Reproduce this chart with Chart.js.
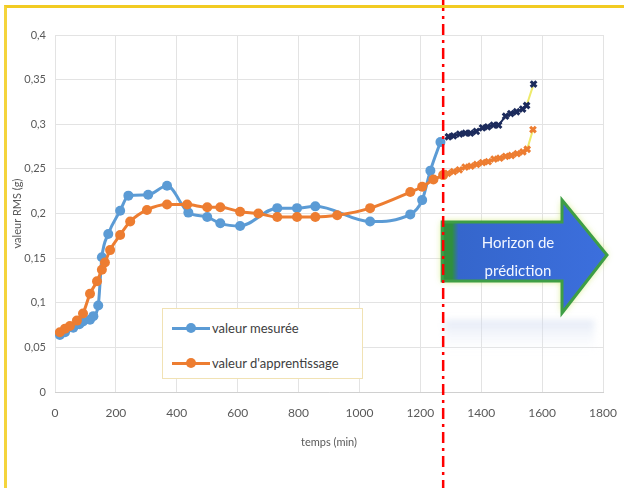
<!DOCTYPE html>
<html>
<head>
<meta charset="utf-8">
<script src="https://cdn.jsdelivr.net/npm/chart.js@4/dist/chart.umd.min.js"></script>
<style>
  html, body { margin: 0; padding: 0; background: #ffffff; overflow: hidden; }
  #wrap { position: relative; width: 624px; height: 488px; overflow: hidden; }
  #c { position: absolute; left: 0; top: 0; }
  #frame { position: absolute; left: 4px; top: 5px; width: 700px; height: 480px;
    border-top: 3px solid #F2CB22; border-left: 3px solid #F4D43C; border-bottom: 1px solid #F8EBB8; pointer-events: none; }
  #legend { position: absolute; left: 162px; top: 308px; width: 199px; height: 69px;
    border: 1px solid #F1E2B4; background: #ffffff; font-family: Lato, "Open Sans", sans-serif;
    font-size: 13px; color: #404040; }
  .item { position: absolute; left: 9px; height: 14px; display: flex; align-items: center; }
  .sym { position: relative; width: 38px; height: 14px; margin-right: 2px; }
  .sym .ln { position: absolute; left: 0; top: 5.5px; width: 38px; height: 3px; }
  .sym .pt { position: absolute; left: 14px; top: 2px; width: 10px; height: 10px; border-radius: 50%; }
  #arrowText { position: absolute; left: 458px; top: 228px; width: 120px; text-align: center;
    font-family: Lato, "Open Sans", sans-serif; font-size: 15px; line-height: 28px; color: #F2F6FF; }
</style>
</head>
<body>
<div id="wrap">
  <canvas id="c" width="624" height="488"></canvas>
  <div id="frame"></div>
  <div id="legend"></div>
  <div id="arrowText">Horizon de<br>prédiction</div>
</div>
<script>
// ---------- DATA ----------
const seriesNames = ["valeur mesurée", "valeur d'apprentissage"];
const xTitle = "temps (min)";
const yTitle = "valeur RMS (g)";

const measuredX = [16, 33, 60, 80, 92, 115, 126, 142, 154, 175, 214, 241, 306, 368, 438, 500, 543, 608, 730, 795, 855, 1035, 1167, 1206, 1233, 1266];
const measuredY = [0.064, 0.067, 0.072, 0.076, 0.079, 0.081, 0.085, 0.097, 0.151, 0.177, 0.203, 0.220, 0.221, 0.231, 0.201, 0.196, 0.189, 0.186, 0.206, 0.206, 0.208, 0.191, 0.199, 0.215, 0.248, 0.280];

const learnedX = [16, 33, 49, 72, 92, 115, 138, 154, 164, 181, 214, 247, 302, 368, 434, 500, 543, 608, 668, 730, 795, 855, 927, 1035, 1167, 1206, 1243, 1275];
const learnedY = [0.067, 0.071, 0.074, 0.080, 0.088, 0.110, 0.124, 0.137, 0.145, 0.159, 0.176, 0.191, 0.204, 0.210, 0.210, 0.207, 0.207, 0.202, 0.200, 0.196, 0.196, 0.196, 0.198, 0.206, 0.224, 0.230, 0.238, 0.243];

const predMeasuredX = [1292, 1309, 1329, 1348, 1365, 1384, 1404, 1421, 1440, 1457, 1480, 1497, 1516, 1536, 1549, 1572];
const predMeasuredY = [0.286, 0.287, 0.289, 0.290, 0.290, 0.292, 0.296, 0.297, 0.299, 0.299, 0.309, 0.312, 0.314, 0.317, 0.321, 0.345];

const predLearnedX = [1290, 1309, 1328, 1347, 1366, 1385, 1404, 1423, 1442, 1461, 1480, 1499, 1518, 1537, 1551, 1570];
const predLearnedY = [0.245, 0.247, 0.249, 0.252, 0.253, 0.255, 0.257, 0.258, 0.261, 0.262, 0.264, 0.265, 0.267, 0.269, 0.272, 0.294];

const horizonX = 1275;
const xTicks = [0, 200, 400, 600, 800, 1000, 1200, 1400, 1600, 1800];
const yTicks = [0, 0.05, 0.1, 0.15, 0.2, 0.25, 0.3, 0.35, 0.4];

// ---------- STYLE ----------
const BLUE = "#5B9BD5", ORANGE = "#ED7D31", NAVY = "#1C2B5C", YELLOW = "#EEEA6A";
const FONT = "Lato, 'Open Sans', sans-serif";
const pts = (xs, ys) => xs.map((x, i) => ({ x: x, y: ys[i] }));

// Legend (HTML)
const legend = document.getElementById('legend');
[[seriesNames[0], BLUE, 12], [seriesNames[1], ORANGE, 47]].forEach(([name, col, top]) => {
  const it = document.createElement('div');
  it.className = 'item';
  it.style.top = top + 'px';
  it.innerHTML = '<div class="sym"><div class="ln" style="background:' + col + '"></div><div class="pt" style="background:' + col + '"></div></div><span>' + name + '</span>';
  legend.appendChild(it);
});

// Arrow + horizon line plugin
const arrowBox = { bodyTop: 222, bodyBottom: 281, headTop: 200, headBottom: 313, headX: 562, tipX: 607, tipY: 255 };
function arrowPath(ctx, left) {
  const a = arrowBox;
  ctx.beginPath();
  ctx.moveTo(left, a.bodyTop);
  ctx.lineTo(a.headX, a.bodyTop);
  ctx.lineTo(a.headX, a.headTop);
  ctx.lineTo(a.tipX, a.tipY);
  ctx.lineTo(a.headX, a.headBottom);
  ctx.lineTo(a.headX, a.bodyBottom);
  ctx.lineTo(left, a.bodyBottom);
  ctx.closePath();
}
const overlayPlugin = {
  id: 'overlay',
  afterDraw(chart) {
    const ctx = chart.ctx;
    const xPix = chart.scales.x.getPixelForValue(horizonX);
    const left = xPix - 1;
    // reflection
    ctx.save();
    const rg = ctx.createLinearGradient(0, 320, 0, 352);
    rg.addColorStop(0, 'rgba(205,216,238,0.55)');
    rg.addColorStop(1, 'rgba(235,240,250,0.0)');
    ctx.fillStyle = rg;
    ctx.filter = 'blur(3px)';
    ctx.fillRect(left + 2, 320, 150, 30);
    ctx.restore();
    // arrow
    ctx.save();
    ctx.shadowColor = 'rgba(200,230,90,0.9)';
    ctx.shadowBlur = 7;
    arrowPath(ctx, left);
    const g = ctx.createLinearGradient(left, 0, arrowBox.tipX, 0);
    g.addColorStop(0, '#2F8F3F');
    g.addColorStop(0.06, '#2F8F3F');
    g.addColorStop(0.1, '#3566CC');
    g.addColorStop(1, '#3C6FDD');
    ctx.fillStyle = g;
    ctx.fill();
    ctx.shadowBlur = 0;
    ctx.lineWidth = 3;
    ctx.strokeStyle = '#3E9E45';
    ctx.lineJoin = 'miter';
    ctx.stroke();
    ctx.restore();
    // horizon dash-dot line
    ctx.save();
    ctx.strokeStyle = '#FF0000';
    ctx.lineWidth = 2.5;
    ctx.setLineDash([11, 5, 3, 5]);
    ctx.beginPath();
    ctx.moveTo(xPix, 0);
    ctx.lineTo(xPix, chart.height);
    ctx.stroke();
    ctx.restore();
  }
};

const fmt = v => v === 0 ? '0' : String(+v.toFixed(2)).replace('.', ',');

new Chart(document.getElementById('c'), {
  type: 'scatter',
  data: {
    datasets: [
      { label: seriesNames[0], data: pts(measuredX, measuredY), showLine: true,
        borderColor: BLUE, backgroundColor: BLUE, borderWidth: 3, pointRadius: 5, pointBorderWidth: 0,
        cubicInterpolationMode: 'monotone', order: 2 },
      { label: seriesNames[1], data: pts(learnedX, learnedY), showLine: true,
        borderColor: ORANGE, backgroundColor: ORANGE, borderWidth: 3, pointRadius: 5, pointBorderWidth: 0,
        cubicInterpolationMode: 'monotone', order: 1 },
      { label: 'prédiction mesurée', data: pts(predMeasuredX, predMeasuredY), showLine: true,
        borderColor: NAVY, backgroundColor: NAVY, borderWidth: 2, pointStyle: 'crossRot', pointRadius: 4, pointBorderWidth: 3,
        pointBorderColor: NAVY,
        segment: { borderColor: c => c.p1DataIndex === predMeasuredX.length - 1 ? YELLOW : undefined },
        order: 0 },
      { label: 'prédiction apprentissage', data: pts(predLearnedX, predLearnedY), showLine: true,
        borderColor: ORANGE, backgroundColor: ORANGE, borderWidth: 2, pointStyle: 'crossRot', pointRadius: 4, pointBorderWidth: 3,
        pointBorderColor: ORANGE,
        segment: { borderColor: c => c.p1DataIndex === predLearnedX.length - 1 ? YELLOW : undefined },
        order: 0 }
    ]
  },
  options: {
    responsive: false,
    animation: false,
    devicePixelRatio: 1,
    layout: { padding: { left: 0, top: 35, right: 21, bottom: 0 } },
    plugins: { legend: { display: false }, tooltip: { enabled: false } },
    scales: {
      x: {
        type: 'linear', min: xTicks[0], max: xTicks[xTicks.length - 1],
        afterBuildTicks: s => { s.ticks = xTicks.map(v => ({ value: v })); },
        afterFit: s => { s.height = 96; s.paddingRight = 0; s.paddingLeft = 0; },
        grid: { color: '#E3E3E3', lineWidth: 1, drawTicks: false },
        border: { color: '#D0D0D0' },
        ticks: { padding: 14, color: '#595959', font: { family: FONT, size: 12 }, maxRotation: 0, callback: v => String(v) },
        title: { display: true, text: xTitle, color: '#595959', font: { family: FONT, size: 11 }, padding: { top: 0, bottom: 39 } }
      },
      y: {
        type: 'linear', min: yTicks[0], max: yTicks[yTicks.length - 1],
        afterBuildTicks: s => { s.ticks = yTicks.map(v => ({ value: v })); },
        afterFit: s => { s.width = 55; s.paddingTop = 0; s.paddingBottom = 0; },
        grid: { color: '#E3E3E3', lineWidth: 1, drawTicks: false },
        border: { display: false },
        ticks: { padding: 9, color: '#595959', font: { family: FONT, size: 11 }, callback: v => fmt(v) },
        title: { display: true, text: yTitle, color: '#595959', font: { family: FONT, size: 11 }, padding: { top: 11, bottom: 0 } }
      }
    }
  },
  plugins: [overlayPlugin]
});
</script>
</body>
</html>
